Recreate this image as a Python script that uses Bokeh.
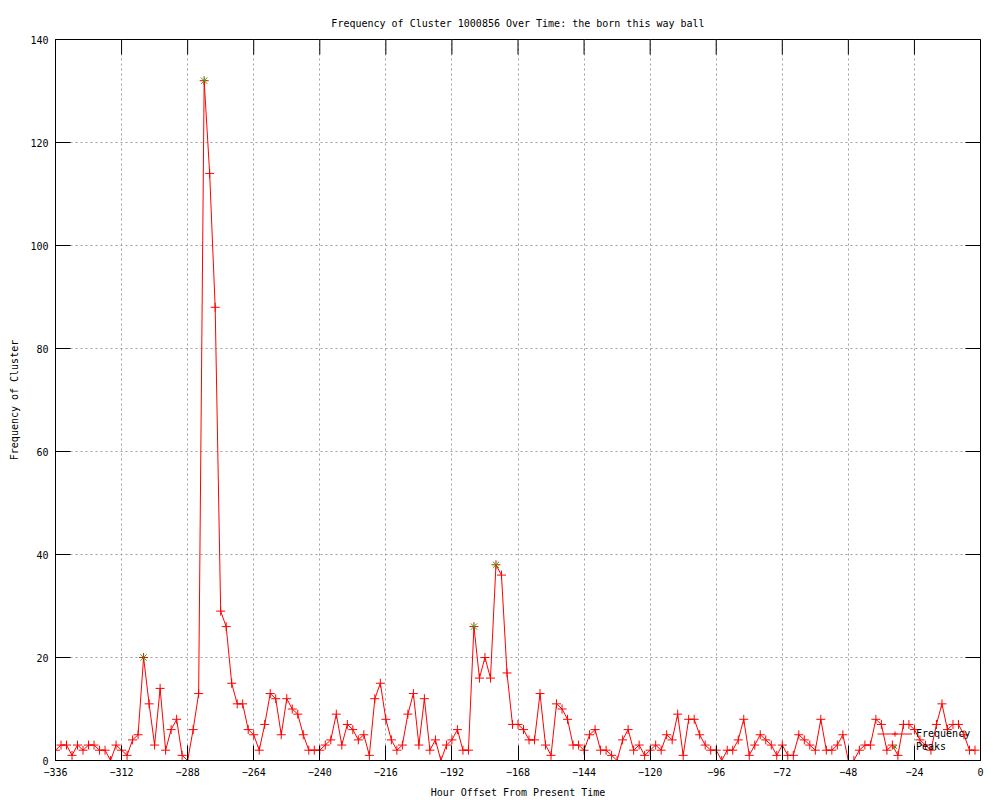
import math
from bokeh.plotting import figure
from bokeh.models import Range1d, FixedTicker, Legend, LegendItem, ColumnDataSource
from bokeh.embed import file_html
from bokeh.resources import INLINE

# ---- data ----
hours = list(range(-336, 0, 2))
freq = [2, 3, 3, 1, 3, 2, 3, 3, 2, 2, 0, 3, 2, 1, 4, 5, 20, 11, 3, 14,
        2, 6, 8, 1, 0, 6, 13, 132, 114, 88, 29, 26, 15, 11, 11, 6, 5, 2, 7, 13,
        12, 5, 12, 10, 9, 5, 2, 2, 2, 3, 4, 9, 3, 7, 6, 4, 5, 1, 12, 15,
        8, 4, 2, 3, 9, 13, 3, 12, 2, 4, 0, 3, 4, 6, 2, 2, 26, 16, 20, 16,
        38, 36, 17, 7, 7, 6, 4, 4, 13, 3, 1, 11, 10, 8, 3, 3, 2, 5, 6, 2,
        2, 1, 0, 4, 6, 2, 3, 1, 2, 3, 2, 5, 4, 9, 1, 8, 8, 5, 3, 2,
        2, 0, 2, 2, 4, 8, 1, 3, 5, 4, 3, 1, 3, 1, 1, 5, 4, 3, 2, 8,
        2, 2, 3, 5, 0, 0, 2, 3, 3, 8, 7, 2, 3, 1, 7, 7, 6, 4, 3, 2,
        7, 11, 6, 7, 7, 5, 2, 2]
peak_hours = [-304, -282, -184, -176]
peak_vals = [20, 132, 26, 38]
x_min, x_max = -336, 0
y_min, y_max = 0, 140
x_ticks = list(range(-336, 1, 24))
y_ticks = list(range(0, 141, 20))

FONT = "DejaVu Sans Mono"
FS = "10px"

p = figure(width=1000, height=800, output_backend="svg", toolbar_location=None,
           x_range=Range1d(x_min, x_max), y_range=Range1d(y_min, y_max),
           min_border_left=55, min_border_right=20, min_border_top=39, min_border_bottom=40,
           title="Frequency of Cluster 1000856 Over Time: the born this way ball")
p.title.text_font = FONT
p.title.text_font_size = FS
p.title.text_font_style = "normal"
p.title.text_color = "black"
p.title.align = "center"
p.title.standoff = 22
p.outline_line_color = "black"
p.outline_line_width = 1
p.background_fill_color = "white"
p.border_fill_color = "white"

for ax in (p.xaxis[0], p.yaxis[0]):
    ax.major_tick_in = 15
    ax.major_tick_out = 0
    ax.minor_tick_line_color = None
    ax.axis_line_color = "black"
    ax.major_tick_line_color = "black"
    ax.major_label_text_font = FONT
    ax.major_label_text_font_size = FS
    ax.major_label_text_color = "black"
    ax.major_label_standoff = 7
    ax.axis_label_text_font = FONT
    ax.axis_label_text_font_size = FS
    ax.axis_label_text_font_style = "normal"
    ax.axis_label_text_color = "black"

p.xaxis[0].ticker = FixedTicker(ticks=x_ticks)
p.yaxis[0].ticker = FixedTicker(ticks=y_ticks)
p.xaxis[0].axis_label = "Hour Offset From Present Time"
p.yaxis[0].axis_label = "Frequency of Cluster"
p.xaxis[0].axis_label_standoff = 8
p.yaxis[0].axis_label_standoff = 7

p.xgrid.ticker = FixedTicker(ticks=x_ticks)
p.ygrid.ticker = FixedTicker(ticks=y_ticks)
for g in (p.xgrid[0], p.ygrid[0]):
    g.grid_line_color = "#a0a0a0"
    g.grid_line_dash = "2 3"
    g.grid_line_width = 1

# mirrored tick marks on top and right borders (half outside is clipped by the frame)
p.scatter(x=x_ticks, y=[y_max] * len(x_ticks), marker="dash", size=30, angle=math.pi / 2,
          line_color="black", line_width=1)
p.scatter(x=[x_max] * len(y_ticks), y=y_ticks, marker="dash", size=30,
          line_color="black", line_width=1)

src = ColumnDataSource(dict(x=hours, y=freq))
psrc = ColumnDataSource(dict(x=peak_hours, y=peak_vals))

ln = p.line("x", "y", source=src, line_color="#ff0000", line_width=1)
pts = p.scatter("x", "y", source=src, marker="cross", size=9, line_color="#ff0000", line_width=1)
pk = p.scatter("x", "y", source=psrc, marker="x", size=9, line_color="#00c000", line_width=1)

legend = Legend(items=[LegendItem(label="Frequency", renderers=[ln, pts]),
                       LegendItem(label="Peaks", renderers=[pk])],
                location=(822, 7), orientation="vertical",
                background_fill_alpha=0, border_line_alpha=0,
                label_text_font=FONT, label_text_font_size=FS, label_text_color="black",
                glyph_width=35, glyph_height=13, label_height=13,
                padding=0, margin=0, spacing=0, label_standoff=4)
p.add_layout(legend, "center")

open("out.html", "w").write(file_html(p, INLINE))
